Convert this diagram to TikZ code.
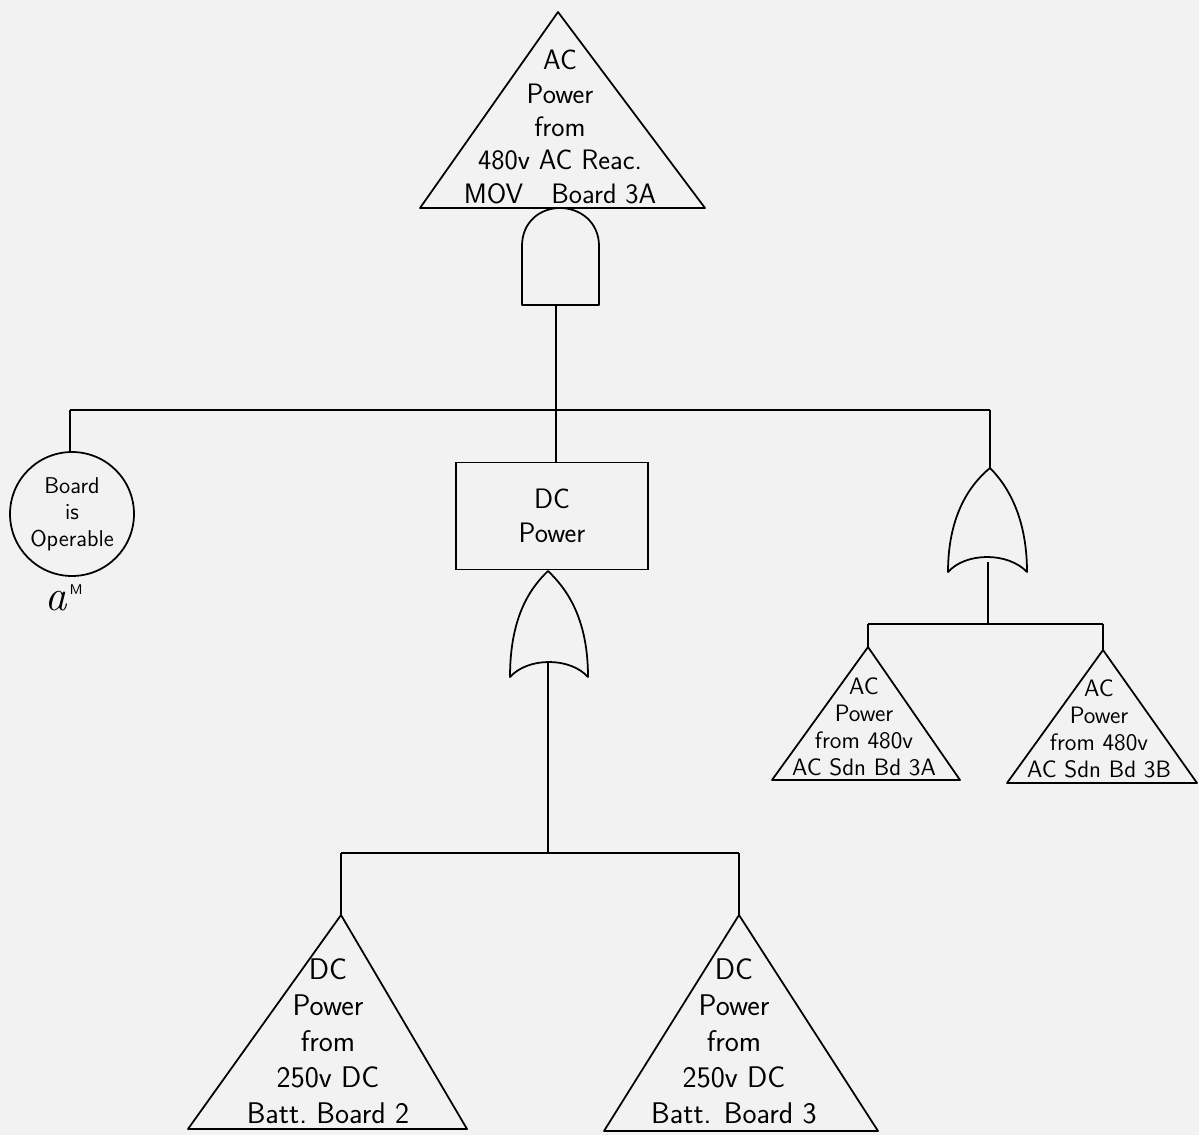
\documentclass[tikz,border=0pt]{standalone}
\usetikzlibrary{positioning}

\tikzset{
  gateline/.style={draw, line width=1pt, line join=round},
  bigtext/.style={font=\fontsize{16}{19}\selectfont\sffamily, align=center},
  midtext/.style={font=\fontsize{17}{20.5}\selectfont\sffamily, align=center},
  smalltext/.style={font=\fontsize{13.5}{15.5}\selectfont\sffamily, align=center},
}

\begin{document}
\begin{tikzpicture}[x=0.02cm, y=-0.02cm, line width=1pt]
 \fill[black!5] (0,0) rectangle (1199,1135);
 \useasboundingbox (0,0) rectangle (1199,1135);

 % top event (transfer triangle)
 \coordinate (topapex) at (558,12);
 \coordinate (topbase) at (560,208);
 \draw[gateline] (topapex) -- (705,208) -- (420,208) -- cycle;
 \node[bigtext] (toptext) at (560,127) {AC\\Power\\from\\480v AC Reac.\\MOV\quad Board 3A};

 % and gate
 \coordinate (andout) at (560,208);
 \coordinate (andin) at (556,305);
 \draw[gateline] (522,305) -- (522,246) .. controls (522,222) and (540,208) .. (andout)
   .. controls (580,208) and (599,222) .. (599,246) -- (599,305) -- cycle;

 % upper bus
 \coordinate (busmid) at (556,410);
 \coordinate (busleft) at (70,410);
 \coordinate (busright) at (990,410);
 \draw (andin) -- (busmid);
 \draw (busleft) -- (busright);

 % basic event
 \node[circle, draw, minimum size=2.48cm, inner sep=0pt,
   font=\fontsize{13}{15}\selectfont\sffamily, align=center] (board) at (72,514) {Board\\is\\Operable};
 \node[font=\fontsize{24}{24}\selectfont] (boardtag) at (64,598) {$\mathit{a}^{\textsf{\footnotesize M}}$};
 \draw (busleft) -- (busleft |- board.north);

 % dc power box
 \node[draw, minimum width=3.84cm, minimum height=2.14cm, bigtext] (dcbox) at (552,516) {DC\\Power};
 \draw (busmid) -- (dcbox.north -| busmid);

 % or gate below the box
 \coordinate (or1out) at (548,571);
 \coordinate (or1in) at (548,663);
 \draw[gateline] (510,677) .. controls (510,620) and (528,590) .. (or1out)
   .. controls (568,590) and (588,620) .. (588,677)
   .. controls (570,657) and (528,657) .. cycle;

 % lower bus
 \coordinate (lowmid) at (548,853);
 \coordinate (lowleft) at (341,853);
 \coordinate (lowright) at (739,853);
 \draw (or1in) -- (lowmid);
 \draw (lowleft) -- (lowright);

 % battery board triangles
 \coordinate (batt2) at (341,915);
 \coordinate (batt3) at (739,915);
 \draw[gateline] (batt2) -- (467,1129) -- (188,1129) -- cycle;
 \draw[gateline] (batt3) -- (878,1131) -- (604,1131) -- cycle;
 \node[midtext] (batt2text) at (328,1041) {DC\\Power\\from\\250v DC\\Batt.\ Board 2};
 \node[midtext] (batt3text) at (734,1041) {DC\\Power\\from\\250v DC\\Batt. Board 3};
 \draw (lowleft) -- (batt2);
 \draw (lowright) -- (batt3);

 % or gate on the right
 \coordinate (or2out) at (990,468);
 \coordinate (or2in) at (988,562);
 \draw[gateline] (948,572) .. controls (948,518) and (968,486) .. (or2out)
   .. controls (1008,486) and (1027,518) .. (1027,572)
   .. controls (1008,552) and (966,552) .. cycle;
 \draw (busright) -- (or2out);

 % shutdown board bus
 \coordinate (sdnmid) at (988,624);
 \coordinate (sdnleft) at (868,624);
 \coordinate (sdnright) at (1103,624);
 \draw (or2in) -- (sdnmid);
 \draw (sdnleft) -- (sdnright);

 % shutdown board triangles
 \coordinate (sdn3a) at (868,647);
 \coordinate (sdn3b) at (1103,650);
 \draw[gateline] (sdn3a) -- (960,780) -- (772,780) -- cycle;
 \draw[gateline] (sdn3b) -- (1197,783) -- (1007,783) -- cycle;
 \node[smalltext] (sdn3atext) at (864,727) {AC\\Power\\from 480v\\AC Sdn Bd 3A};
 \node[smalltext] (sdn3btext) at (1099,729) {AC\\Power\\from 480v\\AC Sdn Bd 3B};
 \draw (sdnleft) -- (sdn3a);
 \draw (sdnright) -- (sdn3b);
\end{tikzpicture}
\end{document}
